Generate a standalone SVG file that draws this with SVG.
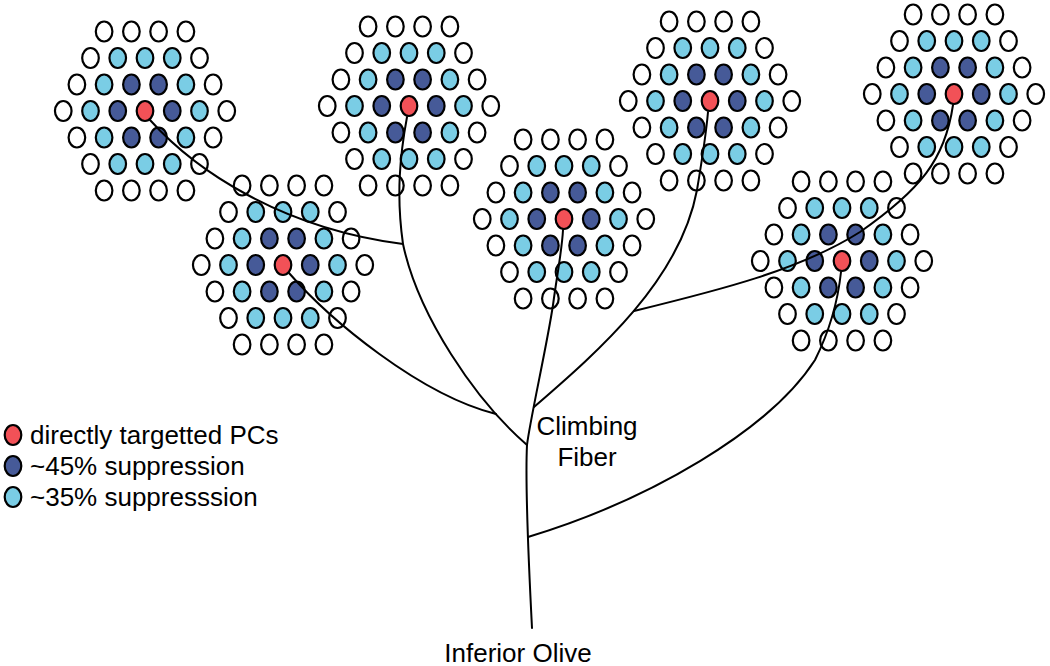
<svg xmlns="http://www.w3.org/2000/svg" xmlns:xlink="http://www.w3.org/1999/xlink" width="1050" height="666" viewBox="0 0 1050 666">
<style>
.pc{stroke:#000;stroke-width:2.2}
.w{fill:#fff}
.l{fill:#7ACDE5}
.d{fill:#465A98}
.r{fill:#F25157}
.fib{fill:none;stroke:#000;stroke-width:2;stroke-linecap:round}
.t{font-family:"Liberation Sans",Arial,sans-serif;font-size:26px;fill:#000}
</style>
<defs>
<g id="hex" class="pc">
<ellipse class="w" cx="-40.9" cy="-79.5" rx="8.3" ry="10"/>
<ellipse class="w" cx="-13.6" cy="-79.5" rx="8.3" ry="10"/>
<ellipse class="w" cx="13.6" cy="-79.5" rx="8.3" ry="10"/>
<ellipse class="w" cx="40.9" cy="-79.5" rx="8.3" ry="10"/>
<ellipse class="w" cx="-54.5" cy="-53" rx="8.3" ry="10"/>
<ellipse class="l" cx="-27.25" cy="-53" rx="8.3" ry="10"/>
<ellipse class="l" cx="0" cy="-53" rx="8.3" ry="10"/>
<ellipse class="l" cx="27.25" cy="-53" rx="8.3" ry="10"/>
<ellipse class="w" cx="54.5" cy="-53" rx="8.3" ry="10"/>
<ellipse class="w" cx="-68.1" cy="-26.5" rx="8.3" ry="10"/>
<ellipse class="l" cx="-40.9" cy="-26.5" rx="8.3" ry="10"/>
<ellipse class="d" cx="-13.6" cy="-26.5" rx="8.3" ry="10"/>
<ellipse class="d" cx="13.6" cy="-26.5" rx="8.3" ry="10"/>
<ellipse class="l" cx="40.9" cy="-26.5" rx="8.3" ry="10"/>
<ellipse class="w" cx="68.1" cy="-26.5" rx="8.3" ry="10"/>
<ellipse class="w" cx="-81.75" cy="0" rx="8.3" ry="10"/>
<ellipse class="l" cx="-54.5" cy="0" rx="8.3" ry="10"/>
<ellipse class="d" cx="-27.25" cy="0" rx="8.3" ry="10"/>
<ellipse class="r" cx="0" cy="0" rx="8.3" ry="10"/>
<ellipse class="d" cx="27.25" cy="0" rx="8.3" ry="10"/>
<ellipse class="l" cx="54.5" cy="0" rx="8.3" ry="10"/>
<ellipse class="w" cx="81.75" cy="0" rx="8.3" ry="10"/>
<ellipse class="w" cx="-68.1" cy="26.5" rx="8.3" ry="10"/>
<ellipse class="l" cx="-40.9" cy="26.5" rx="8.3" ry="10"/>
<ellipse class="d" cx="-13.6" cy="26.5" rx="8.3" ry="10"/>
<ellipse class="d" cx="13.6" cy="26.5" rx="8.3" ry="10"/>
<ellipse class="l" cx="40.9" cy="26.5" rx="8.3" ry="10"/>
<ellipse class="w" cx="68.1" cy="26.5" rx="8.3" ry="10"/>
<ellipse class="w" cx="-54.5" cy="53" rx="8.3" ry="10"/>
<ellipse class="l" cx="-27.25" cy="53" rx="8.3" ry="10"/>
<ellipse class="l" cx="0" cy="53" rx="8.3" ry="10"/>
<ellipse class="l" cx="27.25" cy="53" rx="8.3" ry="10"/>
<ellipse class="w" cx="54.5" cy="53" rx="8.3" ry="10"/>
<ellipse class="w" cx="-40.9" cy="79.5" rx="8.3" ry="10"/>
<ellipse class="w" cx="-13.6" cy="79.5" rx="8.3" ry="10"/>
<ellipse class="w" cx="13.6" cy="79.5" rx="8.3" ry="10"/>
<ellipse class="w" cx="40.9" cy="79.5" rx="8.3" ry="10"/>
</g>
</defs>
<rect width="1050" height="666" fill="#fff"/>
<g id="cluster1"><use href="#hex" xlink:href="#hex" transform="translate(145,111)"/></g>
<g id="cluster2"><use href="#hex" xlink:href="#hex" transform="translate(283,265)"/></g>
<g id="cluster3"><use href="#hex" xlink:href="#hex" transform="translate(409,106)"/></g>
<g id="cluster4"><use href="#hex" xlink:href="#hex" transform="translate(564,219)"/></g>
<g id="cluster5"><use href="#hex" xlink:href="#hex" transform="translate(710,101)"/></g>
<g id="cluster6"><use href="#hex" xlink:href="#hex" transform="translate(954,94)"/></g>
<g id="cluster7"><use href="#hex" xlink:href="#hex" transform="translate(842,261)"/></g>
<g id="connectors" class="fib">
<path d="M532,628 C529,570 525,485 527,445 C530,420 547,345 553,305 C557,275 562,250 563,230"/>
<path d="M150,120 C195,170 280,228 403,244"/>
<path d="M407,117 C400,155 396,195 403,244 C418,315 475,400 527,445"/>
<path d="M289,273 C330,320 420,395 496,414"/>
<path d="M534,407 C600,350 680,280 697,190 C702,160 706,135 708,112"/>
<path d="M634,311 C720,290 800,270 860,232 C920,190 945,160 953,105"/>
<path d="M528,537 C650,500 770,430 815,360 C830,330 838,300 841,272"/>
</g>
<g id="labels" class="t">
<text x="587" y="435" text-anchor="middle">Climbing</text>
<text x="587" y="466" text-anchor="middle">Fiber</text>
<text x="518" y="662" text-anchor="middle">Inferior Olive</text>
</g>
<g id="legend">
<ellipse class="pc r" cx="13" cy="435" rx="8.3" ry="10"/>
<ellipse class="pc d" cx="13" cy="466" rx="8.3" ry="10"/>
<ellipse class="pc l" cx="13" cy="497" rx="8.3" ry="10"/>
<text class="t" x="30" y="444">directly targetted PCs</text>
<text class="t" x="30" y="475">~45% suppression</text>
<text class="t" x="30" y="506">~35% suppresssion</text>
</g>
</svg>
